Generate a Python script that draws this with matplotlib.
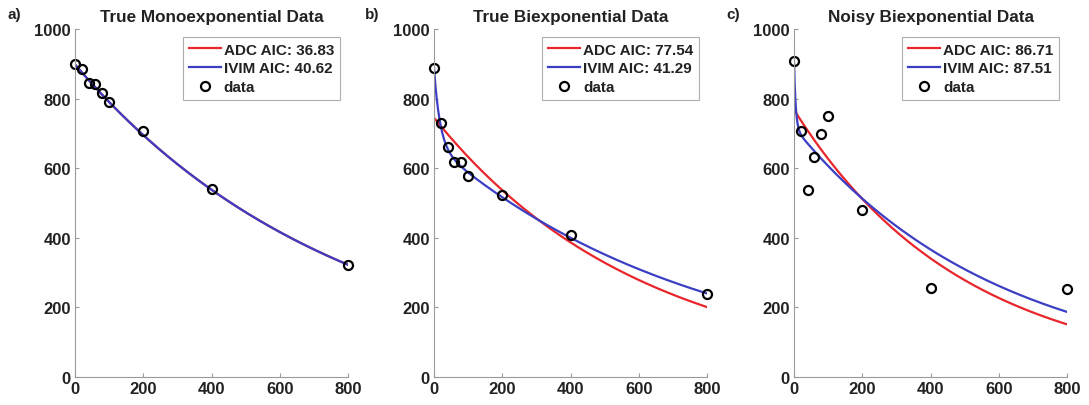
import numpy as np
import matplotlib
matplotlib.use("Agg")
import matplotlib.pyplot as plt

plt.rcParams['font.family'] = ['Liberation Sans', 'DejaVu Sans']
plt.rcParams['font.weight'] = 'bold'

# b值 (s/mm^2)
b_values = [0, 20, 40, 60, 80, 100, 200, 400, 800]

# 三个子图的数据点
signal_mono = [900, 884, 844, 841, 815, 789, 708, 539, 322]
signal_biexp = [888, 730, 660, 619, 617, 579, 523, 409, 239]
signal_noisy = [907, 706, 538, 632, 699, 751, 481, 256, 254]

titles = ["True Monoexponential Data", "True Biexponential Data", "Noisy Biexponential Data"]
panel_tags = ["a)", "b)", "c)"]
adc_aic = [36.83, 77.54, 86.71]
ivim_aic = [40.62, 41.29, 87.51]

# 拟合参数 (从图上估计): ADC -> S0, D ; IVIM -> S0, f, D*, D
adc_S0 = [898, 745, 768]
adc_D = [0.00128, 0.001638, 0.00203]
ivim_S0 = [898, 888, 907]
ivim_f = [0.0, 0.249, 0.209]
ivim_Dstar = [0.05, 0.0574, 0.2]
ivim_D = [0.00128, 0.001277, 0.00168]

RED = '#e8262b'
BLUE = '#3c3fc4'

fig = plt.figure(figsize=(10.89, 4.06), dpi=100, facecolor='white')
lefts = [75 / 1089, 434 / 1089, 794 / 1089]
tag_x = [7 / 1089, 365 / 1089, 726 / 1089]

b_fine = np.linspace(0, 800, 801)
all_data = [signal_mono, signal_biexp, signal_noisy]

for i in range(3):
    ax = fig.add_axes([lefts[i], 28 / 406, 273 / 1089, 348 / 406])
    # 拟合曲线
    adc_curve = adc_S0[i] * np.exp(-b_fine * adc_D[i])
    ivim_curve = ivim_S0[i] * ((1 - ivim_f[i]) * np.exp(-b_fine * ivim_D[i])
                               + ivim_f[i] * np.exp(-b_fine * ivim_Dstar[i]))
    ax.plot(b_fine, adc_curve, color=RED, lw=1.6, label='ADC AIC: %.2f' % adc_aic[i])
    ax.plot(b_fine, ivim_curve, color=BLUE, lw=1.6, label='IVIM AIC: %.2f' % ivim_aic[i])
    ax.plot(b_values, all_data[i], 'o', mfc='none', mec='black', mew=1.6, ms=6.5,
            label='data', clip_on=False)

    ax.set_xlim(0, 800)
    ax.set_ylim(0, 1000)
    ax.set_xticks([0, 200, 400, 600, 800])
    ax.set_yticks([0, 200, 400, 600, 800, 1000])
    for s in ['top', 'right']:
        ax.spines[s].set_visible(False)
    for s in ['left', 'bottom']:
        ax.spines[s].set_color('#9a9a9a')
        ax.spines[s].set_linewidth(0.8)
    ax.tick_params(direction='in', length=3, color='#9a9a9a', labelsize=12,
                   labelcolor='#222222', pad=3)
    ax.set_title(titles[i], fontsize=12.3, fontweight='bold', pad=6, color='#222222')

    leg = ax.legend(loc='upper right', fontsize=11, frameon=True, fancybox=False,
                    handlelength=2.1, handletextpad=0.2, labelspacing=0.3,
                    borderpad=0.4, borderaxespad=0.5)
    leg.get_frame().set_edgecolor('#9a9a9a')
    leg.get_frame().set_linewidth(0.8)
    for t in leg.get_texts():
        t.set_color('#222222')

    fig.text(tag_x[i], 1 - 15 / 406, panel_tags[i], fontsize=11, fontweight='bold',
             va='center', ha='left', color='#222222')

fig.savefig('out.png', dpi=100, facecolor='white')
